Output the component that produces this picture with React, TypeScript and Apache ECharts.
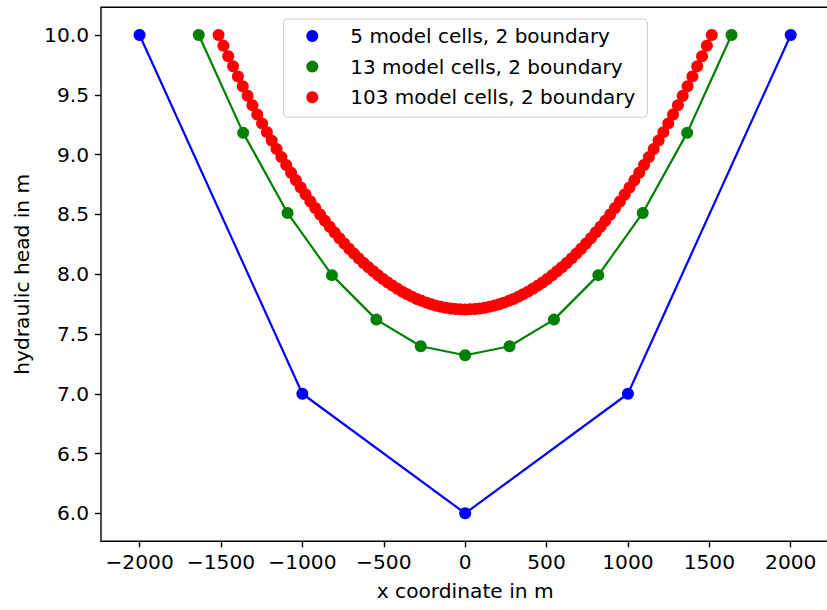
import React, { useEffect, useRef } from "react";
import * as echarts from "echarts";

// ---- data ----
const xTicks = [-2000, -1500, -1000, -500, 0, 500, 1000, 1500, 2000];
const yTicks = [6.0, 6.5, 7.0, 7.5, 8.0, 8.5, 9.0, 9.5, 10.0];

const blueX = [-2000, -1000, 0, 1000, 2000];
const blueY = [10.0, 7.0, 6.0, 7.0, 10.0];

const greenX = [-1636.4, -1363.6, -1090.9, -818.2, -545.5, -272.7, 0, 272.7, 545.5, 818.2, 1090.9, 1363.6, 1636.4];
const greenY = [10.0, 9.182, 8.512, 7.992, 7.62, 7.397, 7.322, 7.397, 7.62, 7.992, 8.512, 9.182, 10.0];

const redX = [
  -1514.9, -1485.1, -1455.4, -1425.7, -1396.0, -1366.3, -1336.6, -1306.9, -1277.2, -1247.5,
  -1217.8, -1188.1, -1158.4, -1128.7, -1099.0, -1069.3, -1039.6, -1009.9, -980.2, -950.5,
  -920.8, -891.1, -861.4, -831.7, -802.0, -772.3, -742.6, -712.9, -683.2, -653.5,
  -623.8, -594.1, -564.4, -534.7, -504.9, -475.2, -445.5, -415.8, -386.1, -356.4,
  -326.7, -297.0, -267.3, -237.6, -207.9, -178.2, -148.5, -118.8, -89.1, -59.4,
  -29.7, 0,
  29.7, 59.4, 89.1, 118.8, 148.5, 178.2, 207.9, 237.6, 267.3, 297.0,
  326.7, 356.4, 386.1, 415.8, 445.5, 475.2, 504.9, 534.7, 564.4, 594.1,
  623.8, 653.5, 683.2, 712.9, 742.6, 772.3, 802.0, 831.7, 861.4, 891.1,
  920.8, 950.5, 980.2, 1009.9, 1039.6, 1069.3, 1099.0, 1128.7, 1158.4, 1188.1,
  1217.8, 1247.5, 1277.2, 1306.9, 1336.6, 1366.3, 1396.0, 1425.7, 1455.4, 1485.1,
  1514.9,
];
const redY = [
  10.0, 9.911, 9.823, 9.738, 9.654, 9.572, 9.492, 9.413, 9.336, 9.261,
  9.188, 9.117, 9.047, 8.979, 8.913, 8.848, 8.786, 8.725, 8.666, 8.608,
  8.553, 8.499, 8.447, 8.397, 8.348, 8.301, 8.256, 8.213, 8.172, 8.132,
  8.094, 8.058, 8.024, 7.991, 7.96, 7.931, 7.904, 7.878, 7.854, 7.832,
  7.812, 7.793, 7.777, 7.762, 7.748, 7.737, 7.727, 7.719, 7.713, 7.709,
  7.706, 7.705,
  7.706, 7.709, 7.713, 7.719, 7.727, 7.737, 7.748, 7.762, 7.777, 7.793,
  7.812, 7.832, 7.854, 7.878, 7.904, 7.931, 7.96, 7.991, 8.024, 8.058,
  8.094, 8.132, 8.172, 8.213, 8.256, 8.301, 8.348, 8.397, 8.447, 8.499,
  8.553, 8.608, 8.666, 8.725, 8.786, 8.848, 8.913, 8.979, 9.047, 9.117,
  9.188, 9.261, 9.336, 9.413, 9.492, 9.572, 9.654, 9.738, 9.823, 9.911,
  10.0,
];

const seriesNames = [
  "5 model cells, 2 boundary",
  "13 model cells, 2 boundary",
  "103 model cells, 2 boundary",
];
const seriesColors = ["#0000ff", "#008000", "#ff0000"];

const FONT = "DejaVu Sans";
const FS = 20.2;

function pairs(xs: number[], ys: number[]) {
  return xs.map((x, i) => [x, ys[i]]);
}

export default function App() {
  const ref = useRef<HTMLDivElement>(null);
  useEffect(() => {
    if (!ref.current) return;
    const chart = echarts.init(ref.current, null, { renderer: "svg" });
    const datasets = [pairs(blueX, blueY), pairs(greenX, greenY), pairs(redX, redY)];
    chart.setOption({
      animation: false,
      backgroundColor: "#ffffff",
      grid: {
        left: 101,
        top: 7.3,
        right: -2.3,
        bottom: 610 - 541.3,
        show: true,
        borderColor: "#000000",
        borderWidth: 1.4,
        backgroundColor: "transparent",
        containLabel: false,
        outerBoundsMode: "none",
      },
      legend: {
        orient: "vertical",
        left: 283.3,
        top: 19,
        padding: [6, 12, 9, 23],
        itemGap: 8.6,
        itemWidth: 12,
        itemHeight: 12,
        icon: "circle",
        borderColor: "#cccccc",
        borderWidth: 1,
        borderRadius: 4,
        backgroundColor: "rgba(255,255,255,0.8)",
        selectedMode: false,
        textStyle: {
          fontFamily: FONT,
          fontSize: 20,
          color: "#000000",
          lineHeight: 22,
          padding: [0, 0, 0, 27],
        },
        data: seriesNames.map((n) => ({ name: n, icon: "circle" })),
      },
      xAxis: {
        type: "value",
        min: -2237,
        max: 2237,
        name: "x coordinate in m",
        nameLocation: "middle",
        nameGap: 40,
        nameTextStyle: { fontFamily: FONT, fontSize: FS, color: "#000000" },
        axisLine: { show: false, onZero: false },
        splitLine: { show: false },
        axisTick: {
          show: true,
          length: 6,
          lineStyle: { color: "#000000", width: 1.4 },
          customValues: xTicks,
        },
        axisLabel: {
          margin: 11,
          fontFamily: FONT,
          fontSize: FS,
          color: "#000000",
          customValues: xTicks,
          formatter: (v: number) => (v < 0 ? "\u2212" + Math.abs(v) : String(v)),
        },
      },
      yAxis: {
        type: "value",
        min: 5.766,
        max: 10.232,
        name: "hydraulic head in m",
        nameLocation: "middle",
        nameGap: 69,
        nameTextStyle: { fontFamily: FONT, fontSize: FS, color: "#000000" },
        axisLine: { show: false, onZero: false },
        splitLine: { show: false },
        axisTick: {
          show: true,
          length: 6,
          lineStyle: { color: "#000000", width: 1.4 },
          customValues: yTicks,
        },
        axisLabel: {
          margin: 12,
          fontFamily: FONT,
          fontSize: FS,
          color: "#000000",
          customValues: yTicks,
          formatter: (v: number) => v.toFixed(1),
        },
      },
      series: datasets.map((d, i) => ({
        type: "line",
        name: seriesNames[i],
        data: d,
        symbol: "circle",
        symbolSize: 12,
        showSymbol: true,
        silent: true,
        color: seriesColors[i],
        itemStyle: { color: seriesColors[i] },
        lineStyle: { color: seriesColors[i], width: 2.2 },
        emphasis: { disabled: true },
        z: 2 + i,
      })),
    });
    return () => chart.dispose();
  }, []);
  return (
    <div
      style={{ position: "fixed", left: 0, top: 0, width: 827, height: 610, overflow: "hidden", background: "#fff" }}
    >
      <div ref={ref} style={{ width: 827, height: 610 }} />
    </div>
  );
}
